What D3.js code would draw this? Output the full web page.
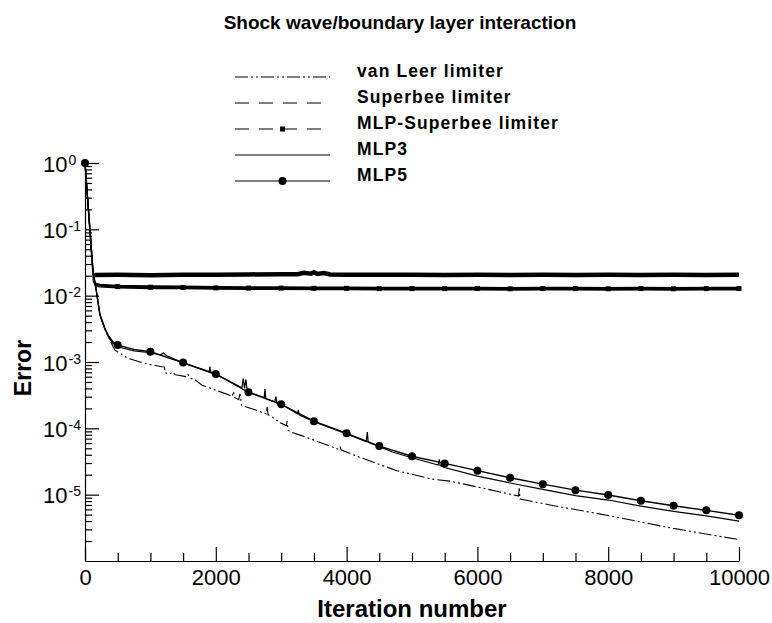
<!DOCTYPE html>
<html>
<head>
<meta charset="utf-8">
<script src="https://cdn.jsdelivr.net/npm/d3@7"></script>
<style>
  body { margin: 0; background: #fff; }
  svg { display: block; }
  text { font-family: "Liberation Sans", Arial, Helvetica, sans-serif; fill: #000; }
</style>
</head>
<body>
<svg id="chart" width="772" height="623"></svg>
<script>
// Residual history: [iteration, error]
const vanLeer = [
  [0, 1], [125, 0.022], [150, 0.0165], [229, 0.0051], [255, 0.0043], [300, 0.0032],
  [357, 0.0024], [430, 0.0017], [459, 0.0015], [500, 0.00142], [662, 0.00113],
  [917, 0.00095], [1172, 0.00085], [1215, 0.00084], [1225, 0.00069], [1300, 0.00066],
  [1340, 0.00071], [1380, 0.00064], [1430, 0.00063], [1550, 0.0006], [1575, 0.00065],
  [1610, 0.00057], [1682, 0.00054], [1784, 0.00045], [1988, 0.00038], [2192, 0.00032],
  [2250, 0.0003], [2270, 0.00036], [2290, 0.00029], [2350, 0.00027], [2370, 0.00033],
  [2396, 0.00022], [2600, 0.00019], [2770, 0.000165], [2785, 0.00021], [2800, 0.00016],
  [2854, 0.00015], [2982, 0.000122], [3080, 0.00011], [3090, 0.00013], [3105, 0.000094],
  [3135, 0.000089], [3287, 0.000079], [3491, 0.000067], [3880, 0.000048], [3900, 0.000052],
  [3920, 0.000047], [4256, 0.000035], [4766, 0.000023], [5326, 0.000017], [5581, 0.000016],
  [6090, 0.0000125], [6630, 0.0000095], [6640, 0.000013], [6650, 0.0000086], [7110, 0.000007],
  [7977, 0.0000049], [8996, 0.0000031], [10000, 0.0000021]
];

const superbee = [
  [0, 1], [125, 0.022], [150, 0.0205], [500, 0.0206], [1000, 0.0204], [1500, 0.0207],
  [2000, 0.0206], [2500, 0.0209], [3000, 0.0211], [3250, 0.021], [3350, 0.0222],
  [3450, 0.0214], [3500, 0.0226], [3550, 0.0212], [3650, 0.0219], [3750, 0.0208],
  [4000, 0.0207], [4500, 0.0206], [5000, 0.0207], [5500, 0.0205], [6000, 0.0206],
  [6500, 0.0205], [7000, 0.0206], [7500, 0.0205], [8000, 0.0206], [8500, 0.0205],
  [9000, 0.0206], [9500, 0.0205], [10000, 0.0207]
];

const mlpSuperbee = [
  [0, 1], [127, 0.0165], [150, 0.0148], [230, 0.0142], [500, 0.0137], [1000, 0.0134],
  [1500, 0.0133], [2000, 0.0131], [2500, 0.013], [3000, 0.013], [3500, 0.0129],
  [4000, 0.0129], [4500, 0.0128], [5000, 0.0128], [5500, 0.0128], [6000, 0.0128],
  [6500, 0.0127], [7000, 0.0128], [7500, 0.0128], [8000, 0.0127], [8500, 0.0128],
  [9000, 0.0127], [9500, 0.0128], [10000, 0.0128]
];

const mlp3 = [
  [0, 1], [125, 0.022], [150, 0.0165], [229, 0.0051], [255, 0.0043], [300, 0.0032],
  [357, 0.0024], [430, 0.0019], [500, 0.0017], [750, 0.00147], [1000, 0.00138],
  [1150, 0.00128], [1200, 0.00137], [1250, 0.00124], [1500, 0.00097], [1900, 0.0007],
  [1910, 0.00085], [1925, 0.00069], [2000, 0.00065], [2400, 0.00041], [2420, 0.00056],
  [2440, 0.0004], [2460, 0.00055], [2480, 0.00037], [2500, 0.00035], [2740, 0.00029],
  [2752, 0.00039], [2765, 0.00028], [2900, 0.00025], [2920, 0.0003], [2935, 0.00024],
  [3000, 0.00023], [3250, 0.000165], [3262, 0.00019], [3275, 0.00016], [3500, 0.000126],
  [4000, 0.000082], [4300, 0.000063], [4317, 0.000088], [4330, 0.000062], [4500, 0.000053],
  [4700, 0.000044], [5000, 0.000036], [5400, 0.000028], [5418, 0.000034], [5430, 0.0000275],
  [5500, 0.0000257], [6000, 0.000019], [6500, 0.000015], [7000, 0.000012], [7500, 0.0000097],
  [8000, 0.0000083], [8500, 0.0000067], [9000, 0.0000056], [9500, 0.0000048], [10000, 0.000004]
];

const mlp5 = [
  [0, 1], [125, 0.022], [150, 0.0165], [229, 0.0052], [255, 0.0044], [300, 0.0033],
  [357, 0.0025], [430, 0.002], [500, 0.0018], [750, 0.00155], [1000, 0.00143],
  [1250, 0.00118], [1500, 0.00098], [2000, 0.00066], [2500, 0.00035], [3000, 0.00023],
  [3500, 0.000128], [4000, 0.000084], [4500, 0.000054], [5000, 0.000038], [5500, 0.0000296],
  [6000, 0.000023], [6500, 0.000018], [7000, 0.0000144], [7500, 0.0000117], [8000, 0.0000099],
  [8500, 0.0000081], [9000, 0.0000068], [9500, 0.0000058], [10000, 0.0000049]
];

const legendLabels = ["van Leer limiter", "Superbee limiter", "MLP-Superbee limiter", "MLP3", "MLP5"];
const xTickValues = [0, 2000, 4000, 6000, 8000, 10000];
const xTickLabels = ["0", "2000", "4000", "6000", "8000", "10000"];
const yTickValues = [1, 1e-1, 1e-2, 1e-3, 1e-4, 1e-5];
const yTickExponents = ["0", "-1", "-2", "-3", "-4", "-5"];
const titleText = "Shock wave/boundary layer interaction";
const xTitle = "Iteration number";
const yTitle = "Error";

const svg = d3.select("#chart");
const x = d3.scaleLinear().domain([0, 10000]).range([85, 739]);
const y = d3.scaleLog().domain([1e-6, 1]).range([561, 163]);

// Title
svg.append("text").attr("x", 400).attr("y", 29).attr("text-anchor", "middle")
  .style("font-size", "19px").style("font-weight", "bold").text(titleText);

// Axes with inward ticks
const xMinor = d3.range(0, 10001, 500).filter(v => v % 2000 !== 0);
svg.append("g").attr("transform", "translate(0,561)")
  .call(d3.axisBottom(x).tickValues(xMinor).tickSize(-8).tickSizeOuter(0).tickFormat(""))
  .call(g => g.select(".domain").remove());
const xAxis = svg.append("g").attr("transform", "translate(0,561)")
  .call(d3.axisBottom(x).tickValues(xTickValues).tickSize(-14).tickSizeOuter(0)
    .tickFormat((d, i) => xTickLabels[i]));
xAxis.selectAll("text").attr("y", 24).attr("dy", 0).style("font-size", "22px");

const yMinor = [];
for (let k = -6; k < 0; k++) for (let m = 2; m <= 9; m++) yMinor.push(m * Math.pow(10, k));
svg.append("g").attr("transform", "translate(85,0)")
  .call(d3.axisLeft(y).tickValues(yMinor).tickSize(-7).tickSizeOuter(0).tickFormat(""))
  .call(g => g.select(".domain").remove());
const yAxis = svg.append("g").attr("transform", "translate(85,0)")
  .call(d3.axisLeft(y).tickValues(yTickValues).tickSize(-14).tickSizeOuter(0).tickFormat(""));
yAxis.selectAll(".tick").each(function (d, i) {
  const t = d3.select(this).append("text").attr("x", -42).attr("y", 8)
    .attr("text-anchor", "start").style("font-size", "22px");
  t.append("tspan").text("10");
  t.append("tspan").attr("dx", 1).attr("dy", -7).style("font-size", "14px").text(yTickExponents[i]);
});
svg.selectAll(".domain, .tick line").attr("stroke", "#000").attr("stroke-width", 1.2);

// Axis titles
svg.append("text").attr("x", 412).attr("y", 617).attr("text-anchor", "middle")
  .style("font-size", "24px").style("font-weight", "bold").text(xTitle);
svg.append("text").attr("transform", "translate(31,368) rotate(-90)").attr("text-anchor", "middle")
  .style("font-size", "23px").style("font-weight", "bold").text(yTitle);

// Curves
const line = d3.line().x(d => x(d[0])).y(d => y(d[1]));
const plot = svg.append("g").attr("fill", "none").attr("stroke", "#000");

plot.append("path").datum(vanLeer).attr("d", line).attr("stroke-width", 1.1)
  .attr("stroke-dasharray", "13,3,2,3,2,3");

plot.append("path").datum(superbee).attr("d", line).attr("stroke-width", 1.2);
plot.append("path").datum(superbee.filter(d => d[0] >= 140)).attr("d", line).attr("stroke-width", 4.5);

plot.append("path").datum(mlpSuperbee).attr("d", line).attr("stroke-width", 1.2);
plot.append("path").datum(mlpSuperbee.filter(d => d[0] >= 140)).attr("d", line).attr("stroke-width", 3.8);

plot.append("path").datum(mlp3).attr("d", line).attr("stroke-width", 1.2);
plot.append("path").datum(mlp5).attr("d", line).attr("stroke-width", 1.4);

svg.append("g").selectAll("rect").data(mlpSuperbee.filter(d => d[0] % 500 === 0)).join("rect")
  .attr("x", d => x(d[0]) - 2.5).attr("y", d => y(d[1]) - 2.5)
  .attr("width", 5).attr("height", 5).attr("fill", "#000");
svg.append("g").selectAll("circle").data(mlp5.filter(d => d[0] % 500 === 0)).join("circle")
  .attr("cx", d => x(d[0])).attr("cy", d => y(d[1])).attr("r", 4).attr("fill", "#000");

// Legend
const legendStyles = [
  { dash: "13,3,2,3,2,3", marker: null },
  { dash: "14,10", marker: null },
  { dash: "14,10", marker: "square" },
  { dash: null, marker: null },
  { dash: null, marker: "circle" }
];
const legend = svg.append("g");
legendLabels.forEach((label, i) => {
  const ly = 77 + i * 26;
  const s = legendStyles[i];
  legend.append("line").attr("x1", 235).attr("x2", 330).attr("y1", ly).attr("y2", ly)
    .attr("stroke", "#000").attr("stroke-width", 1.2)
    .attr("stroke-dasharray", s.dash);
  if (s.marker === "square") {
    legend.append("rect").attr("x", 280).attr("y", ly - 2.5).attr("width", 5).attr("height", 5).attr("fill", "#000");
  } else if (s.marker === "circle") {
    legend.append("circle").attr("cx", 282.5).attr("cy", ly).attr("r", 4).attr("fill", "#000");
  }
  legend.append("text").attr("x", 357).attr("y", ly).style("font-size", "17.5px")
    .style("font-weight", "bold").style("letter-spacing", "1.1px").text(label);
});
</script>
</body>
</html>
